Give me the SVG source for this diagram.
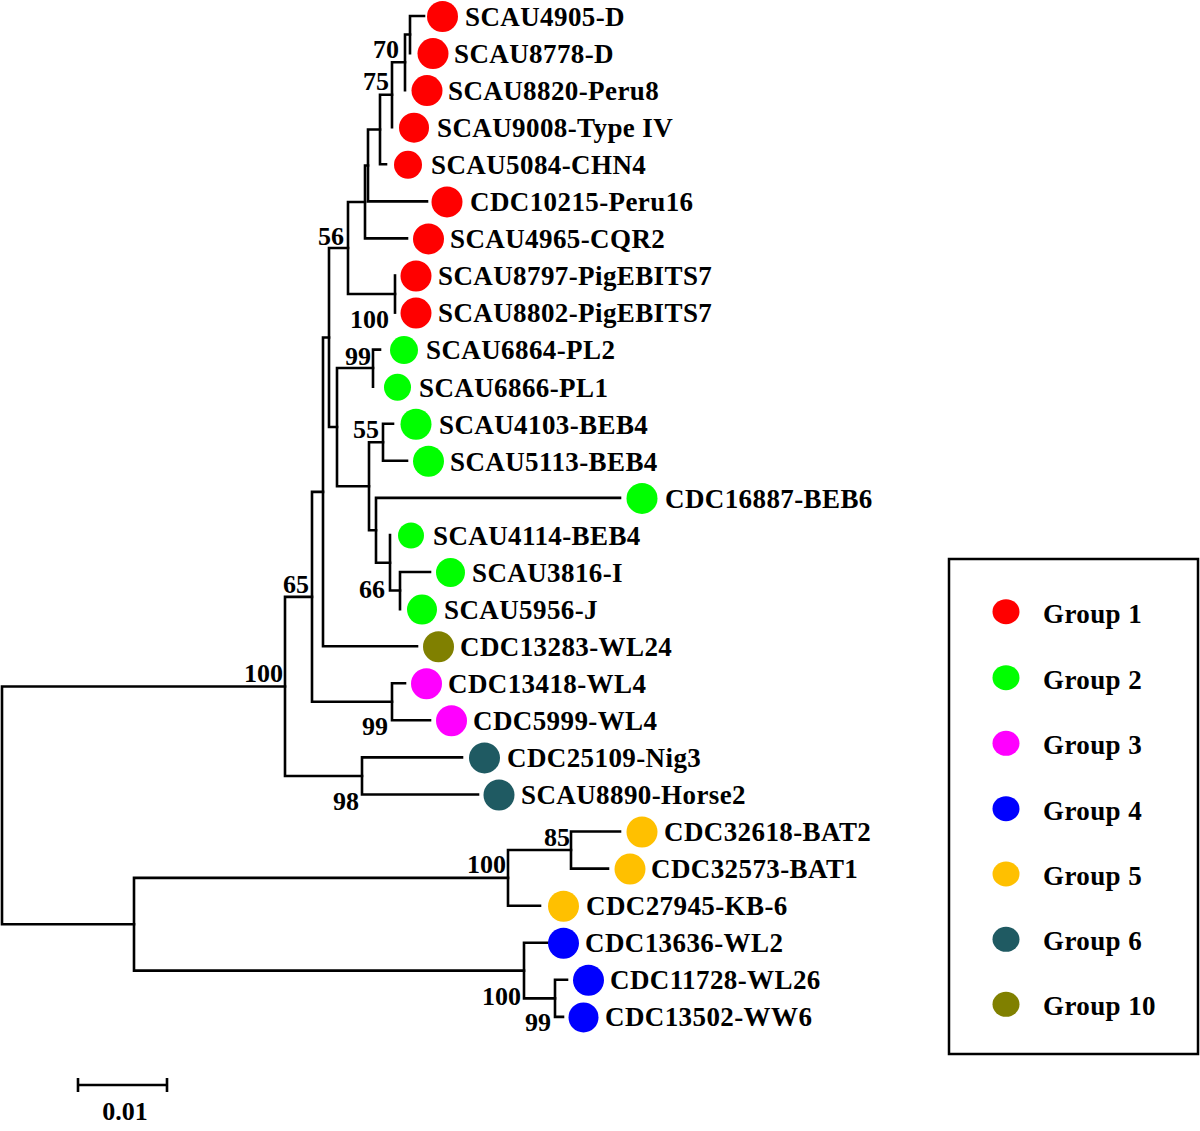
<svg xmlns="http://www.w3.org/2000/svg" width="1200" height="1131" viewBox="0 0 1200 1131">
<style>
.br{fill:none;stroke:#000;stroke-width:2.6;stroke-linecap:square;stroke-linejoin:miter}
.lab{font-family:"Liberation Serif","Times New Roman",serif;font-weight:bold;font-size:27px;fill:#000;letter-spacing:0.4px}
.bs{font-family:"Liberation Serif","Times New Roman",serif;font-weight:bold;font-size:26px;fill:#000;text-anchor:end}
.g1{fill:#ff0000}.g2{fill:#00ff00}.g3{fill:#ff00ff}.g4{fill:#0000ff}.g5{fill:#ffc000}.g6{fill:#1f5a62}.g10{fill:#808000}
</style>
<rect width="1200" height="1131" fill="#fff"/>
<g id="connectors">
<path class="br" d="M424 16 H410 V53.1"/>
<path class="br" d="M410 34.5 H405 V90.1"/>
<path class="br" d="M405 62.3 H392 V127.2"/>
<path class="br" d="M392 94.8 H380 V164.3 H386"/>
<path class="br" d="M380 129.5 H368 V201.4 H427"/>
<path class="br" d="M368 165.5 H365 V238.4 H407"/>
<path class="br" d="M395 275.5 V312.6"/>
<path class="br" d="M365 202 H348 V294 H395"/>
<path class="br" d="M380 349.6 H373 V386.7"/>
<path class="br" d="M393 423.8 H383 V460.8 H407"/>
<path class="br" d="M430 572 H400 V609.1"/>
<path class="br" d="M390 535 V590.5 H400"/>
<path class="br" d="M620 497.9 H376 V562.8 H390"/>
<path class="br" d="M383 442.3 H369 V530.3 H376"/>
<path class="br" d="M373 368 H337 V486.3 H369"/>
<path class="br" d="M348 248 H329 V427 H337"/>
<path class="br" d="M329 337.5 H323 V646.2 H417"/>
<path class="br" d="M405 683.3 H392 V720.3 H430"/>
<path class="br" d="M323 491.9 H312 V701.8 H392"/>
<path class="br" d="M462 757.4 H362 V794.5 H478"/>
<path class="br" d="M312 596.9 H285 V776 H362"/>
<path class="br" d="M620 831.5 H571 V868.6 H608"/>
<path class="br" d="M571 850 H508 V905.7 H540"/>
<path class="br" d="M567 979.8 H555 V1016.9 H563"/>
<path class="br" d="M548 942.8 H524 V998.4 H555"/>
<path class="br" d="M508 877.9 H134 V970.6 H524"/>
<path class="br" d="M285 686.5 H2 V924.3 H134"/>
</g>
<g id="bootstrap">
<text class="bs" x="399" y="58">70</text>
<text class="bs" x="389" y="90">75</text>
<text class="bs" x="344" y="245">56</text>
<text class="bs" x="389" y="328">100</text>
<text class="bs" x="371" y="365">99</text>
<text class="bs" x="379" y="438">55</text>
<text class="bs" x="385" y="598">66</text>
<text class="bs" x="309" y="593">65</text>
<text class="bs" x="388" y="735">99</text>
<text class="bs" x="283" y="682">100</text>
<text class="bs" x="359" y="810">98</text>
<text class="bs" x="570" y="846">85</text>
<text class="bs" x="506" y="873">100</text>
<text class="bs" x="521" y="1005">100</text>
<text class="bs" x="551" y="1031">99</text>
</g>
<g id="n0"><circle class="g1" cx="442.5" cy="16.5" r="15.5"/><text class="lab" x="465" y="26">SCAU4905-D</text></g>
<g id="n1"><circle class="g1" cx="433" cy="53.6" r="15.5"/><text class="lab" x="454" y="63">SCAU8778-D</text></g>
<g id="n2"><circle class="g1" cx="427" cy="90.6" r="15.5"/><text class="lab" x="448" y="100">SCAU8820-Peru8</text></g>
<g id="n3"><circle class="g1" cx="414" cy="127.7" r="15"/><text class="lab" x="437" y="137">SCAU9008-Type IV</text></g>
<g id="n4"><circle class="g1" cx="408" cy="164.8" r="14"/><text class="lab" x="431" y="174">SCAU5084-CHN4</text></g>
<g id="n5"><circle class="g1" cx="447" cy="201.9" r="15.5"/><text class="lab" x="470" y="211">CDC10215-Peru16</text></g>
<g id="n6"><circle class="g1" cx="428.5" cy="238.9" r="15.5"/><text class="lab" x="450" y="248">SCAU4965-CQR2</text></g>
<g id="n7"><circle class="g1" cx="416" cy="276" r="15.5"/><text class="lab" x="438" y="285">SCAU8797-PigEBITS7</text></g>
<g id="n8"><circle class="g1" cx="416" cy="313.1" r="15.5"/><text class="lab" x="438" y="322">SCAU8802-PigEBITS7</text></g>
<g id="n9"><circle class="g2" cx="404" cy="350.1" r="14"/><text class="lab" x="426" y="359">SCAU6864-PL2</text></g>
<g id="n10"><circle class="g2" cx="397.5" cy="387.2" r="13.5"/><text class="lab" x="419" y="396.5">SCAU6866-PL1</text></g>
<g id="n11"><circle class="g2" cx="416" cy="424.3" r="15.5"/><text class="lab" x="439" y="433.5">SCAU4103-BEB4</text></g>
<g id="n12"><circle class="g2" cx="428.5" cy="461.3" r="15.5"/><text class="lab" x="450" y="470.5">SCAU5113-BEB4</text></g>
<g id="n13"><circle class="g2" cx="642" cy="498.4" r="15.5"/><text class="lab" x="665" y="507.5">CDC16887-BEB6</text></g>
<g id="n14"><circle class="g2" cx="411" cy="535.5" r="13"/><text class="lab" x="433" y="544.5">SCAU4114-BEB4</text></g>
<g id="n15"><circle class="g2" cx="450.5" cy="572.5" r="14.5"/><text class="lab" x="472" y="581.5">SCAU3816-I</text></g>
<g id="n16"><circle class="g2" cx="422" cy="609.6" r="15"/><text class="lab" x="444" y="618.5">SCAU5956-J</text></g>
<g id="n17"><circle class="g10" cx="438.5" cy="646.7" r="15.5"/><text class="lab" x="460" y="655.5">CDC13283-WL24</text></g>
<g id="n18"><circle class="g3" cx="426.5" cy="683.8" r="15.5"/><text class="lab" x="448" y="692.5">CDC13418-WL4</text></g>
<g id="n19"><circle class="g3" cx="451.5" cy="720.8" r="15.5"/><text class="lab" x="473" y="729.5">CDC5999-WL4</text></g>
<g id="n20"><circle class="g6" cx="484.5" cy="757.9" r="15.5"/><text class="lab" x="507" y="767">CDC25109-Nig3</text></g>
<g id="n21"><circle class="g6" cx="499" cy="795" r="15.5"/><text class="lab" x="521" y="804">SCAU8890-Horse2</text></g>
<g id="n22"><circle class="g5" cx="642" cy="832" r="15.5"/><text class="lab" x="664" y="841">CDC32618-BAT2</text></g>
<g id="n23"><circle class="g5" cx="630" cy="869.1" r="15.5"/><text class="lab" x="651" y="878">CDC32573-BAT1</text></g>
<g id="n24"><circle class="g5" cx="563.5" cy="906.2" r="15.5"/><text class="lab" x="586" y="915">CDC27945-KB-6</text></g>
<g id="n25"><circle class="g4" cx="563.5" cy="943.3" r="15.5"/><text class="lab" x="585" y="952">CDC13636-WL2</text></g>
<g id="n26"><circle class="g4" cx="588.5" cy="980.3" r="15.5"/><text class="lab" x="610" y="989">CDC11728-WL26</text></g>
<g id="n27"><circle class="g4" cx="583.5" cy="1017.4" r="15"/><text class="lab" x="605" y="1026">CDC13502-WW6</text></g>
<g id="scale">
<path class="br" d="M78 1085 H167 M78 1078 V1092 M167 1078 V1092" style="stroke-linecap:butt"/>
<text class="bs" x="125" y="1120" style="text-anchor:middle">0.01</text>
</g>
<g id="legend">
<rect x="949" y="559" width="249" height="495" fill="none" stroke="#000" stroke-width="2.5"/>
<ellipse class="g1" cx="1006" cy="611.7" rx="13.5" ry="12.5"/><text class="lab" x="1043" y="622.5">Group 1</text>
<ellipse class="g2" cx="1006" cy="677.7" rx="13.5" ry="12.5"/><text class="lab" x="1043" y="688.5">Group 2</text>
<ellipse class="g3" cx="1006" cy="743.3" rx="13.5" ry="12.5"/><text class="lab" x="1043" y="754">Group 3</text>
<ellipse class="g4" cx="1006" cy="808.7" rx="13.5" ry="12.5"/><text class="lab" x="1043" y="819.5">Group 4</text>
<ellipse class="g5" cx="1006" cy="874" rx="13.5" ry="12.5"/><text class="lab" x="1043" y="884.8">Group 5</text>
<ellipse class="g6" cx="1006" cy="939.3" rx="13.5" ry="12.5"/><text class="lab" x="1043" y="950">Group 6</text>
<ellipse class="g10" cx="1006" cy="1004.3" rx="13.5" ry="12.5"/><text class="lab" x="1043" y="1015">Group 10</text>
</g>
</svg>
